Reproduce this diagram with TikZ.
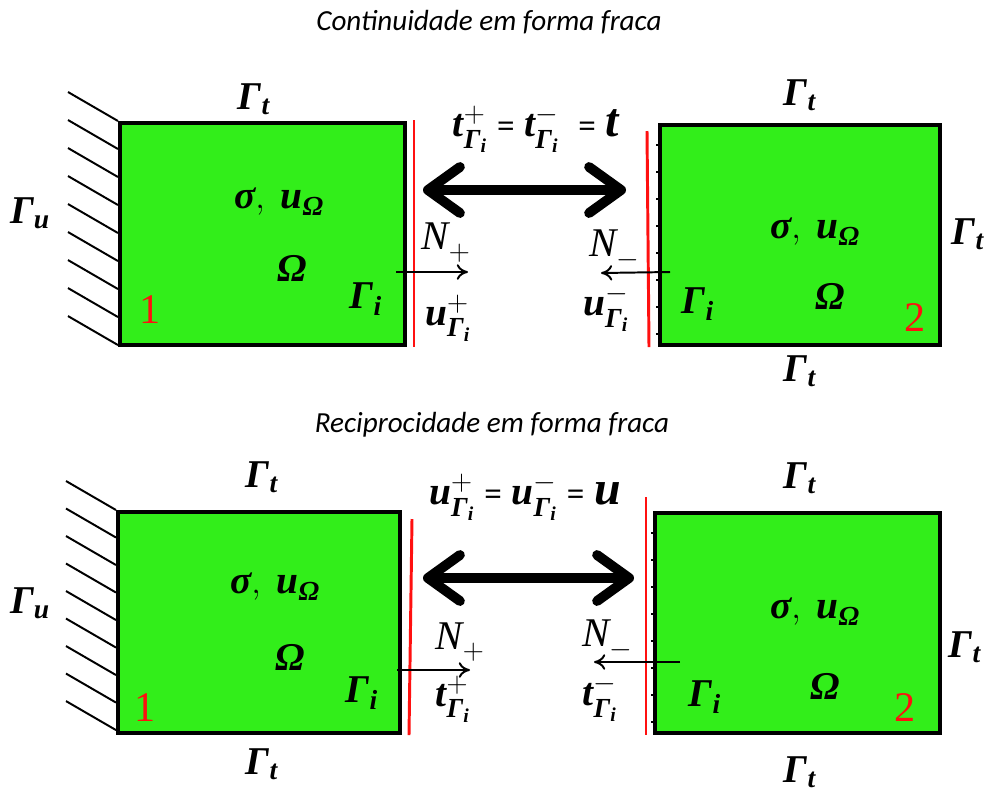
\documentclass[tikz,border=0pt]{standalone}
\usepackage{amsmath}
\usepackage{fontspec}
\setmainfont{Liberation Serif}
\newfontfamily\timesfont{Liberation Serif}
\newfontfamily\titlefont{Carlito}
\usetikzlibrary{arrows.meta}

\definecolor{boxgreen}{RGB}{50,238,26}
\definecolor{ifred}{RGB}{255,16,16}

\tikzset{
  dominio/.style={draw=black, line width=2.8pt, fill=boxgreen, inner sep=0pt},
  hatchline/.style={line width=1.4pt},
  tickline/.style={line width=1pt},
  interface/.style={ifred, line width=2.1pt},
  normal/.style={-{To[length=8pt,width=11pt]}, line width=1.4pt},
  troca/.style={{Straight Barb[length=0.8cm,width=1.15cm,round]}-{Straight Barb[length=0.8cm,width=1.15cm,round]},
    line width=7pt},
  simb/.style={font=\timesfont\fontsize{28}{32}\selectfont\bfseries\itshape, inner sep=0pt},
  vetor/.style={font=\timesfont\fontsize{29}{32}\selectfont\itshape, inner sep=0pt},
  numdom/.style={text=ifred, font=\timesfont\fontsize{30}{34}\selectfont, inner sep=0pt},
  titulo/.style={font=\titlefont\itshape\fontsize{20.7}{24}\selectfont, inner sep=0pt},
}
\newcommand\igual{\;\text{\fontsize{22}{24}\selectfont\upshape =}\;}

\begin{document}
\begin{tikzpicture}[x=0.025cm, y=-0.025cm]
    \useasboundingbox (0,0) rectangle (985,792);
    % ── Continuidade (painel de cima) ───────────────────────────────────────
    \node[titulo] (tit1) at (489,22) {Continuidade em forma fraca};
    \node[dominio, minimum width=7.125cm, minimum height=5.55cm] (b1) at (262.5,234) {};
    \node[dominio, minimum width=7cm, minimum height=5.5cm] (b2) at (800,235) {};
    % engaste do domínio 1
    \foreach \k in {0,...,8}
      \draw[hatchline] ([yshift=-\k*0.7cm]b1.north west) -- ++(-50,-29);
    \foreach \k in {0,...,7}
      \draw[tickline] ([yshift=-0.55cm-\k*0.675cm]b2.north west) -- ++(-2.5,0);
    % interfaces
    \draw[interface] (414,120) -- (414,347);
    \draw[interface] (647,131) -- (649,347);
    % normais
    \coordinate (n1s) at (396,272);
    \coordinate (n1e) at (468,272);
    \coordinate (n2s) at (670,272);
    \coordinate (n2e) at (601,273);
    \draw[normal] (n1s) -- (n1e);
    \draw[normal] (n2s) -- (n2e);
    \coordinate (c1l) at (423,190);
    \coordinate (c1r) at (626,190);
    \draw[troca] (c1l) -- (c1r);
    % rótulos
    \node[simb] (gt1) at (254,99) {$\text{Γ}_{\text{t}}$};
    \node[simb] (gu1) at (30,213) {$\text{Γ}_{\text{u}}$};
    \node[simb] (su1) at (279,202) {$\text{σ},\ \text{u}_{\text{Ω}}$};
    \node[simb] (om1) at (292,268) {$\text{Ω}$};
    \node[simb] (gi1) at (366,299) {$\text{Γ}_{\text{i}}$};
    \node[numdom] (d1) at (150,310) {1};
    \node[vetor] (np1) at (446,243) {$\text{N}_{\raisebox{-4pt}{$\scriptstyle +$}}$};
    \node[simb] (up1) at (448,318) {$\text{u}^{+}_{\text{Γ}_{\text{i}}}$};
    \node[simb] (eq1) at (536,129)
      {$\text{t}^{+}_{\text{Γ}_{\text{i}}}\igual\text{t}^{-}_{\text{Γ}_{\text{i}}}\;\igual\text{\fontsize{34}{38}\selectfont t}$};
    \node[vetor] (nm1) at (615,250) {$\text{N}_{\raisebox{-4pt}{$\scriptstyle -$}}$};
    \node[simb] (um1) at (606,308) {$\text{u}^{-}_{\text{Γ}_{\text{i}}}$};
    \node[simb] (gi2) at (698,304) {$\text{Γ}_{\text{i}}$};
    \node[simb] (su2) at (815,232) {$\text{σ},\ \text{u}_{\text{Ω}}$};
    \node[simb] (om2) at (830,296) {$\text{Ω}$};
    \node[numdom] (d2) at (915,318) {2};
    \node[simb] (gt2) at (800,95) {$\text{Γ}_{\text{t}}$};
    \node[simb] (gt3) at (800,371) {$\text{Γ}_{\text{t}}$};
    \node[simb] (gt4) at (968,234) {$\text{Γ}_{\text{t}}$};
    % ── Reciprocidade (painel de baixo) ─────────────────────────────────────
    \node[titulo] (tit2) at (492,425) {Reciprocidade em forma fraca};
    \node[dominio, minimum width=7.05cm, minimum height=5.525cm] (b3) at (259,622.5) {};
    \node[dominio, minimum width=7.125cm, minimum height=5.5cm] (b4) at (797.5,623) {};
    \foreach \k in {0,...,8}
      \draw[hatchline] ([yshift=-\k*0.6875cm]b3.north west) -- ++(-50,-29);
    \foreach \k in {0,...,7}
      \draw[tickline] ([yshift=-0.55cm-\k*0.675cm]b4.north west) -- ++(-2.5,0);
    \draw[interface] (412,519) -- (409,735);
    \draw[interface] (646,497) -- (646,735);
    \coordinate (n3s) at (397,670);
    \coordinate (n3e) at (470,670);
    \coordinate (n4s) at (680,662);
    \coordinate (n4e) at (594,662);
    \draw[normal] (n3s) -- (n3e);
    \draw[normal] (n4s) -- (n4e);
    \coordinate (c2l) at (423,578);
    \coordinate (c2r) at (634,578);
    \draw[troca] (c2l) -- (c2r);
    \node[simb] (gt5) at (262,477) {$\text{Γ}_{\text{t}}$};
    \node[simb] (gt6) at (262,764) {$\text{Γ}_{\text{t}}$};
    \node[simb] (gu2) at (30,603) {$\text{Γ}_{\text{u}}$};
    \node[simb] (su3) at (275,587) {$\text{σ},\ \text{u}_{\text{Ω}}$};
    \node[simb] (om3) at (290,657) {$\text{Ω}$};
    \node[simb] (gi3) at (362,693) {$\text{Γ}_{\text{i}}$};
    \node[numdom] (d3) at (145,708) {1};
    \node[vetor] (np2) at (460,642) {$\text{N}_{\raisebox{-4pt}{$\scriptstyle +$}}$};
    \node[simb] (tp2) at (453,699) {$\text{t}^{+}_{\text{Γ}_{\text{i}}}$};
    \node[simb] (eq2) at (525,497)
      {$\text{u}^{+}_{\text{Γ}_{\text{i}}}\igual\text{u}^{-}_{\text{Γ}_{\text{i}}}\igual\text{\fontsize{34}{38}\selectfont u}$};
    \node[vetor] (nm2) at (608,640) {$\text{N}_{\raisebox{-4pt}{$\scriptstyle -$}}$};
    \node[simb] (tm2) at (600,698) {$\text{t}^{-}_{\text{Γ}_{\text{i}}}$};
    \node[simb] (gi4) at (705,697) {$\text{Γ}_{\text{i}}$};
    \node[simb] (su4) at (815,612) {$\text{σ},\ \text{u}_{\text{Ω}}$};
    \node[simb] (om4) at (825,686) {$\text{Ω}$};
    \node[numdom] (d4) at (905,708) {2};
    \node[simb] (gt7) at (800,478) {$\text{Γ}_{\text{t}}$};
    \node[simb] (gt8) at (800,772) {$\text{Γ}_{\text{t}}$};
    \node[simb] (gt9) at (965,647) {$\text{Γ}_{\text{t}}$};
\end{tikzpicture}
\end{document}
